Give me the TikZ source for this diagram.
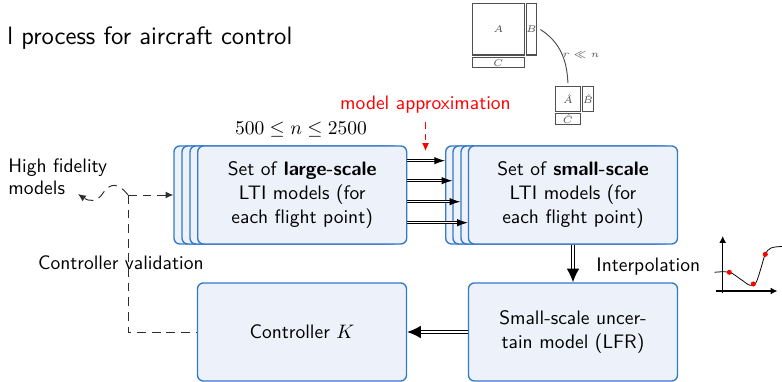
\documentclass[tikz,border=0pt]{standalone}
\usetikzlibrary{arrows.meta}
\definecolor{boxblue}{RGB}{52,122,200}
\definecolor{boxfill}{RGB}{237,241,250}
\definecolor{matgray}{RGB}{80,80,80}
\definecolor{dashgray}{RGB}{45,45,45}
\begin{document}
\begin{tikzpicture}[x=0.513pt,y=-0.513pt,font=\sffamily,
  layer/.style={draw=boxblue,fill=boxfill,line width=0.7pt,rounded corners=3pt,
    minimum width=107.2pt,minimum height=50.3pt,inner sep=0pt,text width=100pt,
    align=center,font=\sffamily\fontsize{10}{12.4}\selectfont},
  thinarrow/.style={line width=0.45pt,double=white,double distance=0.55pt,
    -{Latex[length=5.5pt,width=3.8pt]}},
  bigarrow/.style={line width=0.6pt,double=white,double distance=1.3pt,
    -{Latex[length=7pt,width=6.5pt]}},
  dashline/.style={dashgray,line width=0.5pt,dash pattern=on 4.5pt off 3pt},
  dashtip/.style={-{Latex[length=4pt,width=3.5pt]}},
  mbox/.style={draw=matgray,line width=0.55pt,inner sep=0pt,text=matgray,
    font=\fontsize{5}{6}\selectfont},
  plain/.style={inner sep=0pt,font=\sffamily\fontsize{10}{11.2}\selectfont}]
\useasboundingbox (0,0) rectangle (782,382);

% heading
\node[inner sep=0pt,anchor=base west,font=\sffamily\fontsize{12.9}{15}\selectfont] (title) at (7,45)
  {l process for aircraft control};

% state-space matrices, full and reduced
\node[mbox,minimum width=26.3pt,minimum height=26.2pt] (mA) at (498.4,29.5) {$A$};
\node[mbox,minimum width=5.6pt,minimum height=26.2pt] (mB) at (531.5,29.5) {$B$};
\node[mbox,minimum width=26.3pt,minimum height=5.1pt] (mC) at (498.4,62.7) {$C$};
\node[mbox,minimum width=13.2pt,minimum height=13pt] (mAh) at (567.9,99.3) {$\hat A$};
\node[mbox,minimum width=5.1pt,minimum height=13pt] (mBh) at (588,99.3) {$\hat B$};
\node[mbox,minimum width=13.2pt,minimum height=5.4pt] (mCh) at (567.9,119) {$\hat C$};
\draw[matgray,line width=0.5pt] ([xshift=1.5pt]mB.east) .. controls (560,42) and (567,60) .. ([yshift=1.6pt]mAh.north);
\node[text=matgray,font=\fontsize{4.5}{5.5}\selectfont,inner sep=0pt] (rlln) at (581,55) {$r \ll n$};

% labels above the stacks
\node[inner sep=0pt,anchor=base] (nrange) at (301,134.3) {$500 \le n \le 2500$};
\node[plain,anchor=base,text=red] (approx) at (425.5,110) {model approximation};
\coordinate (approxTip) at (425.5,151);
\draw[red,line width=0.5pt,dash pattern=on 3.5pt off 2.5pt,dashtip]
  ([yshift=-4pt]approx.south) -- (approxTip);

% stack of large-scale models
\node[layer] (L1) at (278.5,195) {};
\node[layer] (L2) at (286.5,195) {};
\node[layer] (L3) at (294.5,195) {};
\node[layer] (L4) at (302.2,195) {Set of \textbf{large-scale}\\LTI models (for\\each flight point)};

% stack of small-scale models
\node[layer] (S1) at (550.2,195) {};
\node[layer] (S2) at (557.5,195) {};
\node[layer] (S3) at (565.5,195) {};
\node[layer] (S4) at (573,195) {Set of \textbf{small-scale}\\LTI models (for\\each flight point)};

% lower row
\node[layer] (LFR) at (573,332) {Small-scale uncer-\\tain model (LFR)};
\node[layer] (Ctrl) at (302,332) {Controller $K$};

% reduction arrows, one per flight point
\coordinate (r1) at (0,160.7);
\coordinate (r2) at (0,180.7);
\coordinate (r3) at (0,201.7);
\coordinate (r4) at (0,222.7);
\draw[thinarrow] (L4.east |- r1) -- (S1.west |- r1);
\draw[thinarrow] (L4.east |- r2) -- (S2.west |- r2);
\draw[thinarrow] (L4.east |- r3) -- (S3.west |- r3);
\draw[thinarrow] (L4.east |- r4) -- (S4.west |- r4);

\draw[bigarrow] (S4.south) -- (LFR.north);
\draw[bigarrow] (LFR.west) -- (Ctrl.east);

% validation loop
\node[plain,anchor=west,align=left] (HF) at (8,177) {High fidelity\\models};
\node[plain,anchor=base west] (cv) at (37.7,270) {Controller validation};
\coordinate (J) at (128,195);
\coordinate (hfTip) at (78,194);
\draw[dashline,dashtip] (J) -- (L1.west |- J);
\draw[dashline] (J) |- (Ctrl.west);
\draw[dashline,dashtip] (J) .. controls (118,182) and (110,183) .. (103,193)
  .. controls (97,203) and (88,201) .. (hfTip);

% interpolation sketch
\node[plain,anchor=base west] (interp) at (596,271.5) {Interpolation};
\draw[line width=0.6pt,-{Latex[length=3.5pt,width=3.5pt]}] (722.7,293.5) -- (722.7,236);
\draw[line width=0.6pt,-{Latex[length=3.5pt,width=3.5pt]}] (716,291) -- (777.5,291);
\draw[line width=0.4pt] plot[smooth,tension=0.6] coordinates
  {(714.5,272.3) (729.3,272.3) (741,279.5) (750,285.3) (756,282.5) (761,268) (765.3,254.3) (771,248) (782,246.5)};
\fill[red] (729.3,272.3) circle (1.3pt) (753.3,284) circle (1.3pt) (765.3,254.3) circle (1.3pt);
\end{tikzpicture}
\end{document}
